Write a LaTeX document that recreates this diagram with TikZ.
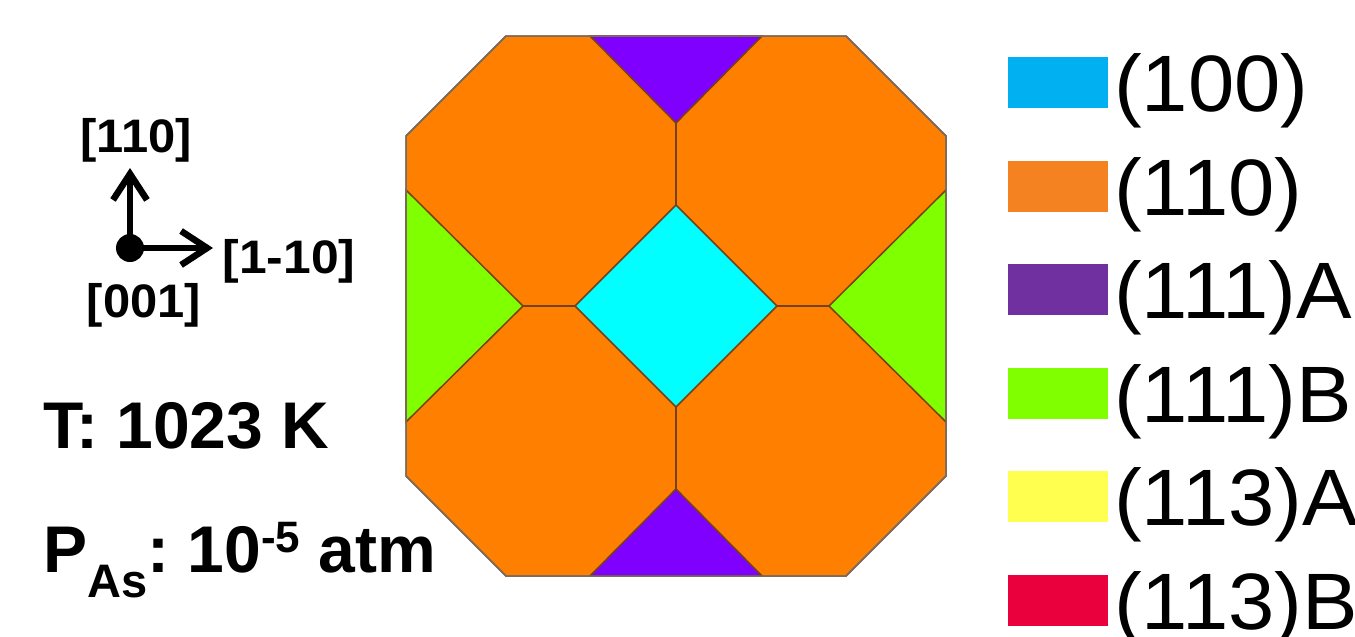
\documentclass[tikz,border=0pt]{standalone}
\usepackage{fontspec}
\setmainfont{Liberation Sans}
\usetikzlibrary{arrows.meta}
\definecolor{faceOrange}{HTML}{FF7F00}
\definecolor{facePurple}{HTML}{8000FF}
\definecolor{faceCyan}{HTML}{00FFFF}
\definecolor{faceGreen}{HTML}{80FF00}
\definecolor{seam}{HTML}{744216}
\definecolor{rim}{HTML}{7C6A5A}
\definecolor{legCyan}{HTML}{00B0F0}
\definecolor{legOrange}{HTML}{F58220}
\definecolor{legPurple}{HTML}{7030A0}
\definecolor{legGreen}{HTML}{80FF00}
\definecolor{legYellow}{HTML}{FFFF50}
\definecolor{legRed}{HTML}{EA003D}
\tikzset{
  face/.style={draw=seam, line width=1.5pt, line join=miter},
  axislabel/.style={font=\fontsize{47}{48}\selectfont\bfseries, inner sep=0pt, anchor=base},
  condlabel/.style={font=\fontsize{66}{70}\selectfont\bfseries, inner sep=0pt, anchor=base west},
  axisarrow/.style={line width=6.5pt, -{Straight Barb[length=26pt,width=34pt]}},
  legbox/.style={rectangle, minimum width=100pt, minimum height=51pt, inner sep=0pt, anchor=north west},
  legtext/.style={font=\fontsize{80}{82}\selectfont, inner sep=0pt, anchor=base west}
}
\begin{document}
\begin{tikzpicture}[x=1pt,y=-1pt]
\useasboundingbox (0,0) rectangle (1355,637);
\fill[white] (0,0) rectangle (1355,637);

% ---- crystal shape ----
\filldraw[face, fill=faceOrange, draw=rim] (506,36) -- (846,36) -- (946,136) -- (946,476) -- (846,576) -- (506,576) -- (406,476) -- (406,136) -- cycle;
\filldraw[face, fill=facePurple] (590,36) -- (762,36) -- (676,123) -- cycle;
\filldraw[face, fill=facePurple] (590,576) -- (762,576) -- (676,489) -- cycle;
\filldraw[face, fill=faceGreen] (406,190) -- (406,422) -- (523,306) -- cycle;
\filldraw[face, fill=faceGreen] (946,190) -- (946,422) -- (829,306) -- cycle;
\filldraw[face, fill=faceCyan] (676,205) -- (777,306) -- (676,407) -- (575,306) -- cycle;
\draw[face, line width=2pt] (676,123) -- (676,205);
\draw[face, line width=2pt] (676,407) -- (676,489);
\draw[face, line width=2pt] (523,306) -- (575,306);
\draw[face, line width=2pt] (777,306) -- (829,306);
\draw[rim, line width=1.5pt] (506,36) -- (846,36) -- (946,136) -- (946,476) -- (846,576) -- (506,576) -- (406,476) -- (406,136) -- cycle;

% ---- axes ----
\node[circle, fill=black, minimum size=28pt, inner sep=0pt] (o) at (130,248) {};
\coordinate (upTip) at (130,168);
\coordinate (rightTip) at (213,248);
\draw[axisarrow] (o.center) -- (upTip);
\draw[axisarrow] (o.center) -- (rightTip);
\node[axislabel] (l110) at (136,152) {\scalebox{1.04}[1]{[110]}};
\node[axislabel] (l1m10) at (289,273) {\scalebox{1.06}[1]{[1-10]}};
\node[axislabel] (l001) at (144,317) {\scalebox{1.04}[1]{[001]}};

% ---- conditions ----
\node[condlabel] (temp) at (43,448) {T: 1023 K};
\node[condlabel] (press) at (43,572) {P\raisebox{-25pt}{\fontsize{47}{47}\selectfont As}:~10\raisebox{20pt}{\fontsize{44}{44}\selectfont -5} atm};

% ---- legend ----
\node[legbox, fill=legCyan]   (b1) at (1008,57)  {};
\node[legbox, fill=legOrange] (b2) at (1008,161) {};
\node[legbox, fill=legPurple] (b3) at (1008,264) {};
\node[legbox, fill=legGreen]  (b4) at (1008,368) {};
\node[legbox, fill=legYellow] (b5) at (1008,471) {};
\node[legbox, fill=legRed]    (b6) at (1008,575) {};
\node[legtext] (t1) at (1114,111) {\scalebox{1.04}[1]{(100)}};
\node[legtext] (t2) at (1114,215) {\scalebox{1.04}[1]{(110)}};
\node[legtext] (t3) at (1114,318) {\scalebox{1.04}[1]{(111)A}};
\node[legtext] (t4) at (1114,422) {\scalebox{1.04}[1]{(111)B}};
\node[legtext] (t5) at (1114,525) {\scalebox{1.04}[1]{(113)A}};
\node[legtext] (t6) at (1114,629) {\scalebox{1.04}[1]{(113)B}};
\end{tikzpicture}
\end{document}
